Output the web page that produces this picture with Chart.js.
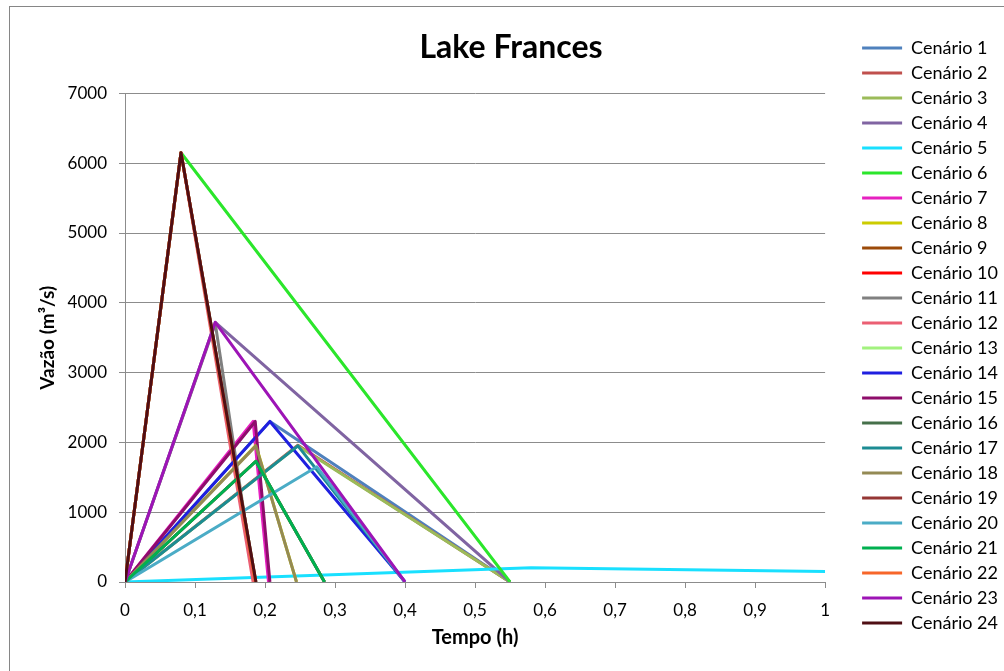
<!DOCTYPE html>
<html>
<head>
<meta charset="utf-8">
<script src="https://cdn.jsdelivr.net/npm/chart.js@4.4.1/dist/chart.umd.min.js"></script>
<style>
  html, body { margin: 0; padding: 0; background: #fff; }
</style>
</head>
<body>
<canvas id="chart" width="1004" height="671"></canvas>
<script>
// Hydrographs for the Lake Frances dam-break scenarios
const chartTitle = 'Lake Frances';
const xAxisTitle = 'Tempo (h)';
const yAxisTitle = 'Vazão (m³/s)';

const scenarioNames = [
  'Cenário 1', 'Cenário 2', 'Cenário 3', 'Cenário 4', 'Cenário 5', 'Cenário 6',
  'Cenário 7', 'Cenário 8', 'Cenário 9', 'Cenário 10', 'Cenário 11', 'Cenário 12',
  'Cenário 13', 'Cenário 14', 'Cenário 15', 'Cenário 16', 'Cenário 17', 'Cenário 18',
  'Cenário 19', 'Cenário 20', 'Cenário 21', 'Cenário 22', 'Cenário 23', 'Cenário 24'
];

const scenarioColors = [
  '#4f81bd', '#c0504d', '#9bbb59', '#8064a2', '#19e0ff', '#2be62b',
  '#e620c0', '#cccc00', '#9c4a09', '#ff0000', '#808080', '#eb5f73',
  '#a2f27e', '#1f1fe0', '#8e0d6b', '#46704a', '#1c8c93', '#948a54',
  '#953735', '#4bacc6', '#00b050', '#f7662a', '#9d14b6', '#4f0e14'
];

// time (h) of each hydrograph point, per scenario
const tempos = [
  [0, 0.207, 0.55], [0, 0.247, 0.55], [0, 0.247, 0.55], [0, 0.129, 0.55],
  [0, 0.58, 1], [0, 0.08, 0.55], [0, 0.183, 0.205], [0, 0.187, 0.245],
  [0, 0.187, 0.285], [0, 0.08, 0.186], [0, 0.129, 0.185], [0, 0.08, 0.183],
  [0, 0.08, 0.187], [0, 0.207, 0.40], [0, 0.186, 0.207], [0, 0.187, 0.285],
  [0, 0.247, 0.40], [0, 0.187, 0.245], [0, 0.08, 0.187], [0, 0.274, 0.40],
  [0, 0.187, 0.285], [0, 0.08, 0.186], [0, 0.129, 0.40], [0, 0.08, 0.187]
];

// discharge (m3/s) of each hydrograph point, per scenario
const vazoes = [
  [0, 2300, 0], [0, 1960, 0], [0, 1950, 0], [0, 3720, 0],
  [0, 205, 150], [0, 6150, 0], [0, 2300, 0], [0, 1960, 0],
  [0, 1730, 0], [0, 6150, 0], [0, 3700, 0], [0, 6150, 0],
  [0, 6150, 0], [0, 2300, 0], [0, 2300, 0], [0, 1730, 0],
  [0, 1950, 0], [0, 1950, 0], [0, 6150, 0], [0, 1650, 0],
  [0, 1730, 0], [0, 6150, 0], [0, 3720, 0], [0, 6150, 0]
];

const xTickLabels = ['0', '0,1', '0,2', '0,3', '0,4', '0,5', '0,6', '0,7', '0,8', '0,9', '1'];
const yTickLabels = ['0', '1000', '2000', '3000', '4000', '5000', '6000', '7000'];

const fontFamily = 'Lato, "DejaVu Sans", sans-serif';
const gridColor = '#8c8c8c';

const datasets = scenarioNames.map((name, i) => ({
  label: name,
  data: tempos[i].map((t, j) => ({ x: t, y: vazoes[i][j] })),
  borderColor: scenarioColors[i],
  backgroundColor: scenarioColors[i],
  borderWidth: 3,
  borderJoinStyle: 'round',
  pointRadius: 0,
  pointHoverRadius: 0,
  pointStyle: 'line',
  pointBorderColor: scenarioColors[i],
  pointBorderWidth: 3,
  tension: 0,
  fill: false,
  // later scenarios sit on top, like the original spreadsheet
  order: scenarioNames.length - i
}));

const frame = {
  id: 'frame',
  beforeDraw(chart) {
    const ctx = chart.ctx;
    ctx.save();
    ctx.fillStyle = '#fff';
    ctx.fillRect(0, 0, chart.width, chart.height);
    ctx.strokeStyle = '#868686';
    ctx.lineWidth = 1;
    ctx.strokeRect(9.5, 6.5, 1100, 1100);
    ctx.restore();
  }
};

new Chart(document.getElementById('chart'), {
  type: 'line',
  data: { datasets: datasets },
  plugins: [frame],
  options: {
    responsive: false,
    animation: false,
    events: [],
    layout: { padding: { left: 14, right: -4, top: 0, bottom: 0 } },
    scales: {
      x: {
        type: 'linear',
        min: 0,
        max: 1,
        afterFit: s => { s.height = 89; },
        ticks: {
          stepSize: 0.1,
          autoSkip: false,
          maxRotation: 0,
          padding: 12,
          color: '#000',
          font: { family: fontFamily, size: 17 },
          callback: (v, i) => xTickLabels[i]
        },
        grid: { drawOnChartArea: false, drawTicks: true, tickLength: 6, color: gridColor },
        border: { color: gridColor },
        title: {
          display: true,
          text: xAxisTitle,
          color: '#000',
          font: { family: fontFamily, size: 20, weight: 'bold' },
          padding: { top: 0, bottom: 21 }
        }
      },
      y: {
        min: 0,
        max: 7000,
        afterFit: s => { s.width = 111; },
        ticks: {
          stepSize: 1000,
          padding: 12,
          color: '#000',
          font: { family: fontFamily, size: 17 },
          callback: (v, i) => yTickLabels[i]
        },
        grid: { color: gridColor, tickLength: 6 },
        border: { color: gridColor },
        title: {
          display: true,
          text: yAxisTitle,
          color: '#000',
          font: { family: fontFamily, size: 19, weight: 'bold' },
          padding: { top: 22, bottom: 0 }
        }
      },
      spacer: {
        type: 'linear',
        position: 'right',
        display: true,
        afterFit: s => { s.width = 30; },
        ticks: { display: false },
        grid: { display: false },
        border: { display: false }
      }
    },
    plugins: {
      title: {
        display: true,
        text: chartTitle,
        color: '#000',
        font: { family: fontFamily, size: 32, weight: 'bold' },
        padding: { top: 28, bottom: 27 }
      },
      legend: {
        position: 'right',
        align: 'center',
        labels: {
          usePointStyle: true,
          pointStyle: 'line',
          pointStyleWidth: 40,
          padding: 7,
          color: '#000',
          font: { family: fontFamily, size: 18 },
          sort: (a, b) => a.datasetIndex - b.datasetIndex
        }
      },
      tooltip: { enabled: false }
    }
  }
});
</script>
</body>
</html>
